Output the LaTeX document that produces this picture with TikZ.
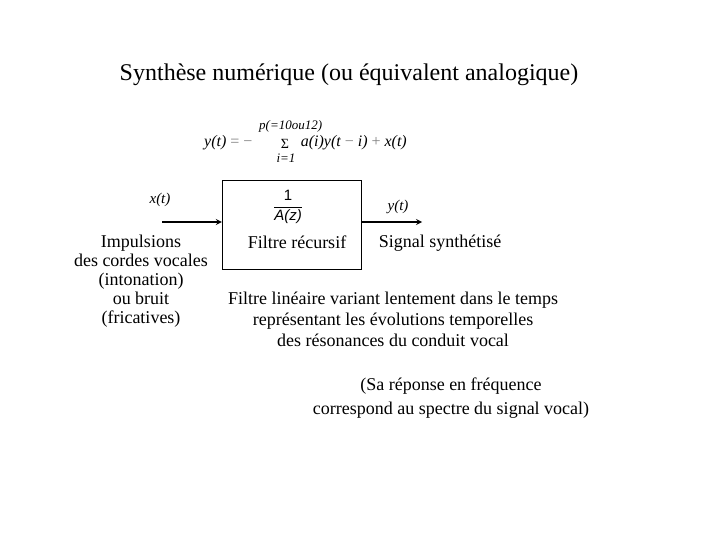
\documentclass[tikz,border=0pt]{standalone}
\usepackage{amsmath}
\usepackage{fontspec}
\setmainfont{Liberation Serif}
\setsansfont{Liberation Sans}
\tikzset{
  texte/.style={align=center,font=\fontsize{18}{19}\selectfont},
  signal/.style={font=\fontsize{15}{17}\selectfont\itshape},
  formule/.style={font=\fontsize{16}{18}\selectfont\itshape,inner sep=0pt},
  fleche/.style={->,line width=1.6pt}
}
\newcommand{\op}[1]{\textcolor{gray}{\upshape#1}}
\begin{document}
\begin{tikzpicture}[x=1pt,y=-1pt,>=stealth]
\useasboundingbox (0,0) rectangle (720,540);
\node (titre) at (349,75) {\fontsize{24}{28}\selectfont Synthèse numérique (ou équivalent analogique)};

% formule de recurrence
\node (membreg) [formule,anchor=west] at (204,143) {y(t) \op{=} \op{−}};
\node (somme) [formule,font=\fontsize{14}{14}\selectfont\upshape] at (285,144) {Σ};
\node (borneh) [formule,font=\fontsize{13}{14}\selectfont\itshape,anchor=west] at (259,126) {p(=10ou12)};
\node (borneb) [formule,font=\fontsize{13}{14}\selectfont\itshape] at (286,158) {i=1};
\node (membred) [formule,anchor=east] at (407,143) {a(i)y(t \op{−} i) \op{+} x(t)};

\node (filtre) [draw,minimum width=139pt,minimum height=89pt] at (291.5,224.5) {};
\node (frac) at (288,207) {\fontsize{15}{17}\selectfont\sffamily
  $\displaystyle\frac{\textsf{1}}{\textsf{\itshape A(z)}}$};
\node (nomfiltre) [texte] at (297,242) {Filtre récursif};

\coordinate (entree) at (162,222);
\coordinate (sortie) at (422,222);
\draw[fleche] (entree) -- (entree -| filtre.west);
\draw[fleche] (sortie -| filtre.east) -- (sortie);
\node (xt) [signal] at (160,200) {x(t)};
\node (yt) [signal] at (398,207) {y(t)};

\node (source) [texte] at (141,281) {Impulsions\\des cordes vocales\\(intonation)\\ou bruit\\(fricatives)};
\node (signal) [texte] at (440,243) {Signal synthétisé};
\node (descr) [texte,font=\fontsize{18}{21}\selectfont] at (393,319) {Filtre linéaire variant lentement dans le temps\\représentant les évolutions temporelles\\des résonances du conduit vocal};
\node (reponse) [texte,font=\fontsize{18}{24}\selectfont] at (451,398) {(Sa réponse en fréquence\\correspond au spectre du signal vocal)};
\end{tikzpicture}
\end{document}
